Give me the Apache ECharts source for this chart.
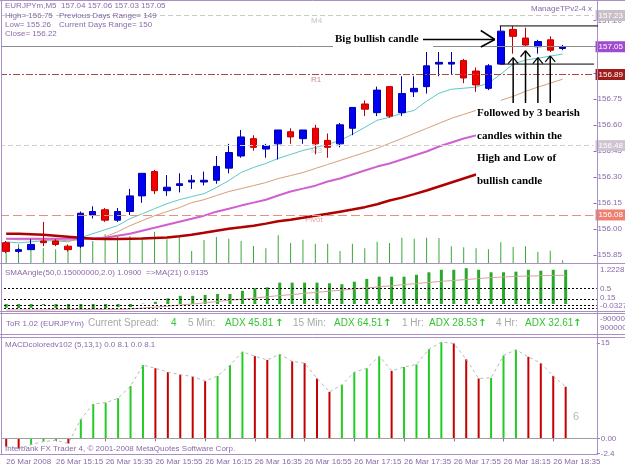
<!DOCTYPE html>
<html><head><meta charset="utf-8">
<script src="https://cdn.jsdelivr.net/npm/echarts@6/dist/echarts.min.js"></script>
<style>html,body{margin:0;padding:0;background:#fff;overflow:hidden}#c{width:625px;height:469px}</style>
</head><body><div id="c"></div>
<script>
// ---------- data ----------
const times = ['14:55','15:00','15:05','15:10','15:15','15:20','15:25','15:30','15:35','15:40','15:45','15:50','15:55',
  '16:00','16:05','16:10','16:15','16:20','16:25','16:30','16:35','16:40','16:45','16:50','16:55',
  '17:00','17:05','17:10','17:15','17:20','17:25','17:30','17:35','17:40','17:45','17:50','17:55',
  '18:00','18:05','18:10','18:15','18:20','18:25','18:30','18:35','18:40'];
const open  = [155.92,155.87,155.88,155.93,155.93,155.90,155.90,156.08,156.11,156.05,156.10,156.19,156.33,156.22,156.25,156.27,156.27,156.28,156.35,156.42,156.52,156.46,156.49,156.56,156.52,156.58,156.51,156.49,156.58,156.72,156.67,156.82,156.67,156.79,156.82,156.95,156.95,156.97,156.91,156.81,156.95,157.15,157.10,157.05,157.09,157.04];
const close = [155.87,155.88,155.91,155.92,155.91,155.88,156.09,156.10,156.05,156.10,156.19,156.32,156.22,156.24,156.26,156.28,156.28,156.36,156.44,156.53,156.47,156.48,156.57,156.53,156.57,156.49,156.47,156.60,156.70,156.69,156.80,156.65,156.78,156.81,156.94,156.96,156.96,156.87,156.83,156.94,157.14,157.11,157.06,157.08,157.03,157.05];
const low   = [155.86,155.86,155.88,155.90,155.90,155.87,155.89,156.06,156.04,156.04,156.08,156.15,156.20,156.19,156.21,156.23,156.25,156.26,156.32,156.41,156.45,156.41,156.40,156.49,156.49,156.43,156.41,156.47,156.54,156.65,156.65,156.64,156.65,156.76,156.78,156.88,156.89,156.84,156.79,156.80,156.95,157.01,157.05,157.01,157.02,157.03];
const high  = [155.93,155.89,155.94,156.04,155.94,155.91,156.10,156.13,156.12,156.12,156.23,156.32,156.34,156.31,156.32,156.31,156.33,156.42,156.49,156.57,156.54,156.49,156.57,156.58,156.57,156.60,156.55,156.61,156.70,156.74,156.82,156.82,156.88,156.88,157.02,157.02,157.02,156.98,156.93,156.95,157.17,157.17,157.16,157.09,157.11,157.06];
const volume = [60,75,75,59,55,59,95,88,115,108,108,101,125,95,104,48,92,104,97,88,68,59,111,80,93,77,77,48,77,59,85,80,101,97,101,100,67,63,59,55,83,64,67,45,49,11];
const maCyan = [155.925,155.919,155.925,155.931,155.931,155.925,155.948,155.972,155.995,156.018,156.058,156.087,156.116,156.145,156.168,156.186,156.203,156.238,156.278,156.325,156.354,156.377,156.406,156.429,156.452,156.469,156.487,156.510,156.545,156.585,156.626,156.643,156.666,156.683,156.736,156.782,156.805,156.811,156.817,156.840,156.892,156.950,156.973,156.984,156.996,157.008];
const maTan = [155.943,155.937,155.937,155.937,155.937,155.931,155.937,155.943,155.954,155.983,156.018,156.047,156.076,156.099,156.122,156.151,156.168,156.192,156.215,156.232,156.249,156.267,156.290,156.307,156.325,156.348,156.371,156.394,156.417,156.440,156.464,156.493,156.521,156.550,156.579,156.608,156.637,156.660,156.683,null,156.741,156.764,156.793,156.817,156.840,156.863];
const maMagenta = [155.943,155.943,155.943,155.943,155.943,155.943,155.943,155.946,155.948,155.960,155.972,155.989,156.006,156.024,156.041,156.058,156.076,156.099,156.116,156.134,156.151,156.168,156.192,156.215,156.232,156.249,156.273,156.290,156.313,156.336,156.359,156.377,156.400,156.423,156.446,156.475,156.498,156.521,156.539,null,null,null,null,null,null,null];
const maRed = [155.972,155.972,155.969,155.966,155.960,155.954,155.948,155.943,155.941,155.941,155.943,155.944,155.947,155.950,155.957,155.966,155.977,155.989,156.001,156.009,156.018,156.030,156.044,156.053,156.064,156.076,156.087,156.099,156.111,156.125,156.142,156.163,156.180,156.200,156.221,156.244,156.267,156.290,156.313,null,null,null,null,null,null,null];
const smaAngle = [-0.12,-0.13,-0.12,-0.03,-0.13,-0.18,-0.18,-0.16,-0.13,-0.10,-0.10,0.01,0.07,0.18,0.26,0.26,0.29,0.32,0.32,0.42,0.50,0.53,0.68,0.68,0.68,0.68,0.66,0.63,0.71,0.80,0.87,0.87,0.87,0.93,1.01,1.09,1.09,1.14,1.09,1.01,1.01,1.03,1.09,1.06,1.09,1.09];
const smaMA = [-0.19,-0.19,-0.19,-0.19,-0.18,-0.18,-0.18,-0.18,-0.17,-0.17,-0.16,-0.13,-0.10,-0.07,-0.03,0.00,0.04,0.08,0.12,0.15,0.19,0.23,0.27,0.30,0.34,0.37,0.41,0.44,0.48,0.51,0.55,0.58,0.62,0.65,0.69,0.72,0.75,0.78,0.81,0.84,0.86,0.88,0.89,0.90,0.91,0.9135];
const smaLevels = [0.5, 0.15, -0.03, -0.12];
const macd = [-1.3,-1.6,-1.0,-0.5,-0.3,-0.8,3.0,5.4,5.6,6.3,8.2,11.5,11.0,10.4,10.0,9.7,9.0,9.8,11.5,13.6,12.9,12.3,13.2,12.1,11.8,9.4,7.3,8.4,10.4,11.0,12.9,10.6,11.2,11.6,14.0,15.1,14.9,12.4,9.4,9.5,13.0,13.9,12.8,11.8,9.8,8.1];
const priceTicks = [155.85,156.00,156.15,156.30,156.45,156.60,156.75,156.90,157.05,157.20];
const macdTicks = [15, 0, -2.4];
const levelNames = ['M4','R1','M3','Pivot'];
const levelValues = [157.23, 156.89, 156.48, 156.08];
const lastPrice = 157.05;
const bigCandle = 40;
const insideCandles = [41, 42, 43, 44];

// ---------- styles ----------
const TXT = '#8a6aa8', FRAME = '#a890c4', FONT = 'Liberation Sans';
const cats = times.concat(['', '']);
const L = -3.25, W = 600;
const candleData = open.map((o, i) => [o, close[i], low[i], high[i]]);
const macdData = macd.map((v, i) => ({
  value: v,
  itemStyle: { color: (i > 0 && v >= macd[i - 1]) ? '#22cc22' : '#c40000' }
}));

const levelStyles = [
  { line: { color: '#c8c8c8', type: [5, 3], width: 1 }, box: '#c8bfc8', name: '#c4c4c4', nx: 311 },
  { line: { color: '#a84848', type: [7, 2, 2, 2], width: 1 }, box: '#a01c1c', name: '#c89090', nx: 311 },
  { line: { color: '#cfcfcf', type: [5, 3], width: 1 }, box: '#d0c4d2', name: '#c4c4c4', nx: 311 },
  { line: { color: '#e49084', type: [9, 4], width: 1 }, box: '#ef8070', name: '#e0a8a0', nx: 305 }
];
const markLineData = [];
levelValues.forEach((v, k) => {
  const s = levelStyles[k];
  markLineData.push({ yAxis: v, lineStyle: s.line,
    label: { show: true, position: 'end', distance: 2, formatter: v.toFixed(2), color: '#fff', backgroundColor: s.box,
      padding: [2, 3, 1, 3], fontSize: 8, fontFamily: FONT } });
});
markLineData.push({ yAxis: lastPrice, lineStyle: { color: '#8c8c8c', type: 'solid', width: 1 },
  label: { show: true, position: 'end', distance: 2, formatter: lastPrice.toFixed(2), color: '#fff', backgroundColor: '#a04ad0',
    padding: [2, 3, 1, 3], fontSize: 8, fontFamily: FONT } });

const hiddenX = (gi) => ({ type: 'category', gridIndex: gi, data: cats, boundaryGap: true,
  axisLine: { show: false }, axisTick: { show: false }, axisLabel: { show: false }, splitLine: { show: false } });

const option = {
  animation: false,
  backgroundColor: '#fff',
  grid: [
    { left: L, width: W, top: 2, height: 261 },
    { left: L, width: W, top: 265, height: 46 },
    { left: L, width: W, top: 338, height: 116 }
  ],
  xAxis: [
    hiddenX(0), hiddenX(1),
    { type: 'category', gridIndex: 2, data: cats, boundaryGap: true,
      axisLine: { show: false },
      axisTick: { show: true, interval: 3, alignWithLabel: true, length: 3, lineStyle: { color: TXT } },
      axisLabel: { show: true, interval: 3, align: 'left', margin: 4, fontSize: 8, fontFamily: FONT, color: TXT,
        formatter: (v, i) => i === 0 ? '26 Mar 2008' : '26 Mar ' + v } }
  ],
  yAxis: [
    { type: 'value', gridIndex: 0, position: 'right', min: 155.803, max: 157.308, scale: true,
      splitLine: { show: false }, axisLine: { show: false },
      axisTick: { show: true, length: 3, customValues: priceTicks, lineStyle: { color: TXT } },
      axisLabel: { show: true, customValues: priceTicks, margin: 4, fontSize: 8, fontFamily: FONT, color: TXT,
        formatter: v => v.toFixed(2) } },
    { type: 'value', gridIndex: 0, min: 0, max: 1040, show: false },
    { type: 'value', gridIndex: 1, position: 'right', min: -0.223, max: 1.242, show: false },
    { type: 'value', gridIndex: 2, position: 'right', min: -2.45, max: 15.75,
      splitLine: { show: false }, axisLine: { show: false },
      axisTick: { show: true, length: 3, customValues: macdTicks, lineStyle: { color: TXT } },
      axisLabel: { show: true, customValues: macdTicks, margin: 4, fontSize: 8, fontFamily: FONT, color: TXT,
        formatter: v => v === 0 ? '0.00' : String(v) } }
  ],
  series: [
    { type: 'bar', name: 'Volume', xAxisIndex: 0, yAxisIndex: 1, data: volume, barWidth: 1,
      itemStyle: { color: '#3aa83a' }, z: 1 },
    { type: 'candlestick', name: 'EURJPYm', xAxisIndex: 0, yAxisIndex: 0, data: candleData, barWidth: 7,
      itemStyle: { color: '#0000f0', color0: '#f00000', borderColor: '#0000b0', borderColor0: '#c00000', borderWidth: 1 },
      markLine: { symbol: 'none', silent: true, animation: false, data: markLineData }, z: 3 },
    { type: 'line', xAxisIndex: 0, yAxisIndex: 0, data: maCyan, symbol: 'none', lineStyle: { color: '#5fc8c8', width: 1 }, z: 2 },
    { type: 'line', xAxisIndex: 0, yAxisIndex: 0, data: maTan, symbol: 'none', lineStyle: { color: '#d4a07c', width: 1 }, z: 2 },
    { type: 'line', xAxisIndex: 0, yAxisIndex: 0, data: maMagenta, symbol: 'none', lineStyle: { color: '#d060d0', width: 2 }, z: 2 },
    { type: 'line', xAxisIndex: 0, yAxisIndex: 0, data: maRed, symbol: 'none', lineStyle: { color: '#b00000', width: 2.5 }, z: 2 },
    { type: 'bar', name: 'SMAAngle', xAxisIndex: 1, yAxisIndex: 2, data: smaAngle, barWidth: 3,
      itemStyle: { color: '#2aa82a' },
      markLine: { symbol: 'none', silent: true, label: { show: false },
        data: smaLevels.map(v => ({ yAxis: v, lineStyle: { color: '#000', type: [2, 2], width: 1 } })) } },
    { type: 'line', xAxisIndex: 1, yAxisIndex: 2, data: smaMA, symbol: 'none', lineStyle: { color: '#d8a0a0', width: 1 } },
    { type: 'bar', name: 'MACD', xAxisIndex: 2, yAxisIndex: 3, data: macdData, barWidth: 2,
      markLine: { symbol: 'none', silent: true, label: { show: false },
        data: [{ yAxis: 0, lineStyle: { color: '#a0a0a0', type: 'solid', width: 1 } }] } },
    { type: 'line', xAxisIndex: 2, yAxisIndex: 3, data: macd, symbol: 'none',
      lineStyle: { color: '#b8b8b8', width: 1, type: [3, 3] } }
  ]
};

const chart = echarts.init(document.getElementById('c'), null, { renderer: 'canvas' });
chart.setOption(option);

// ---------- annotations / frame ----------
const P = (i, v) => chart.convertToPixel({ xAxisIndex: 0, yAxisIndex: 0 }, [i, v]);
const g = [];
function txt(x, y, s, color, size, extra, z) {
  g.push({ type: 'text', x, y, z: z || 120, style: Object.assign({ text: s, fill: color, fontSize: size, fontFamily: FONT, verticalAlign: 'middle' }, extra || {}) });
}
function ln(x1, y1, x2, y2, color, w) {
  g.push({ type: 'line', z: 121, shape: { x1, y1, x2, y2 }, style: { stroke: color, lineWidth: w || 1 } });
}
function box(x, y, w, h) {
  g.push({ type: 'rect', z: 110, shape: { x, y, width: w, height: h }, style: { fill: '#fff' } });
}
// left cover + frame
box(0, 0, 2, 455);
ln(1.5, 0, 1.5, 455, FRAME);
ln(597.5, 0, 597.5, 455, FRAME);
ln(0, 0.5, 625, 0.5, FRAME);
ln(0, 263.5, 625, 263.5, FRAME);
ln(0, 311.5, 625, 311.5, FRAME);
ln(0, 313.5, 625, 313.5, FRAME);
ln(0, 334.5, 625, 334.5, FRAME);
ln(0, 337.5, 625, 337.5, FRAME);
ln(0, 454.5, 597, 454.5, FRAME);

// level names under their lines
levelValues.forEach((v, k) => {
  const p = P(0, v);
  txt(levelStyles[k].nx, p[1] + 5, levelNames[k], levelStyles[k].name, 8, null, 1);
});

// info text
txt(5, 6, 'EURJPYm,M5  157.04 157.06 157.03 157.05', TXT, 8);
txt(5, 16, 'High= 156.75', TXT, 8);
txt(59, 16, 'Previous Days Range= 149', TXT, 8);
txt(5, 25, 'Low= 155.26', TXT, 8);
txt(59, 25, 'Current Days Range= 150', TXT, 8);
txt(5, 34, 'Close= 156.22', TXT, 8);
txt(531, 9, 'ManageTPv2-4', TXT, 8);
txt(588, 9, 'x', TXT, 8);

// big bullish candle box lines
const bcTop = P(bigCandle, high[bigCandle]);
const bcBot = P(bigCandle, low[bigCandle]);
ln(bcTop[0] - 1, bcTop[1], 598, bcTop[1], '#000', 1);
ln(bcBot[0] - 1, bcBot[1], 594, bcBot[1], '#000', 1);

// "Big bullish candle" annotation
const SERIF = { fontFamily: 'Liberation Serif', fontWeight: 'bold' };
box(333, 31, 100, 17);
txt(335, 39.5, 'Big bullish candle', '#000', 11, SERIF);
ln(423, 39.5, bcTop[0] - 6, 39.5, '#000', 1.5);
ln(bcTop[0] - 20, 30.5, bcTop[0] - 6, 39.5, '#000', 1.5);
ln(bcTop[0] - 20, 47, bcTop[0] - 6, 39.5, '#000', 1.5);

// inside-candle arrows
insideCandles.forEach(i => {
  const p = P(i, low[i]);
  const top = p[1] + 4;
  ln(p[0], 103, p[0], top, '#000', 1.5);
  ln(p[0] - 5, top + 6, p[0], top, '#000', 1.2);
  ln(p[0] + 5, top + 6, p[0], top, '#000', 1.2);
});

const lines2 = ['Followed by 3 bearish', 'candles within the', 'High and Low of', 'bullish candle'];
const ly = [113, 136, 158.5, 181.5];
const lw = [104, 90, 80, 76];
lines2.forEach((s, k) => { box(476, ly[k] - 9, lw[k], 18); txt(477, ly[k], s, '#000', 11, SERIF); });

// sub-window titles
txt(5, 273, 'SMAAngle(50,0.15000000,2.0) 1.0900  =>MA(21) 0.9135', TXT, 8);
txt(600, 270, '1.2228', TXT, 8);
txt(600, 289, '0.5', TXT, 8);
txt(600, 297.5, '0.15', TXT, 8);
txt(600, 306, '-0.0327', TXT, 8);
txt(600, 319, '-9000000', TXT, 8);
txt(600, 328, '9000000', TXT, 8);

// ToR line
const GR = '#a8a8a8', GN = '#33c433';
txt(6, 323.5, 'ToR 1.02 (EURJPYm)', TXT, 8);
txt(88, 323.5, 'Current Spread:', GR, 10);
txt(171, 323.5, '4', GN, 10);
txt(188, 323.5, '5 Min:', GR, 10);
txt(225, 323.5, 'ADX 45.81', GN, 10);
txt(275, 323.5, '↑', GN, 10, { fontWeight: 'bold', fontFamily: 'DejaVu Sans' });
txt(293, 323.5, '15 Min:', GR, 10);
txt(334, 323.5, 'ADX 64.51', GN, 10);
txt(383, 323.5, '↑', GN, 10, { fontWeight: 'bold', fontFamily: 'DejaVu Sans' });
txt(402, 323.5, '1 Hr:', GR, 10);
txt(429, 323.5, 'ADX 28.53', GN, 10);
txt(478, 323.5, '↑', GN, 10, { fontWeight: 'bold', fontFamily: 'DejaVu Sans' });
txt(496, 323.5, '4 Hr:', GR, 10);
txt(525, 323.5, 'ADX 32.61', GN, 10);
txt(573, 323.5, '↑', GN, 10, { fontWeight: 'bold', fontFamily: 'DejaVu Sans' });

txt(5, 345, 'MACDcoloredv102 (5,13,1) 0.0 8.1 0.0 8.1', TXT, 8);
txt(573, 417, '6', '#b8b8b8', 11);
txt(5, 449, 'Interbank FX Trader 4, © 2001-2008 MetaQuotes Software Corp.', TXT, 8);

chart.setOption({ graphic: { elements: g } });
</script>
</body></html>
